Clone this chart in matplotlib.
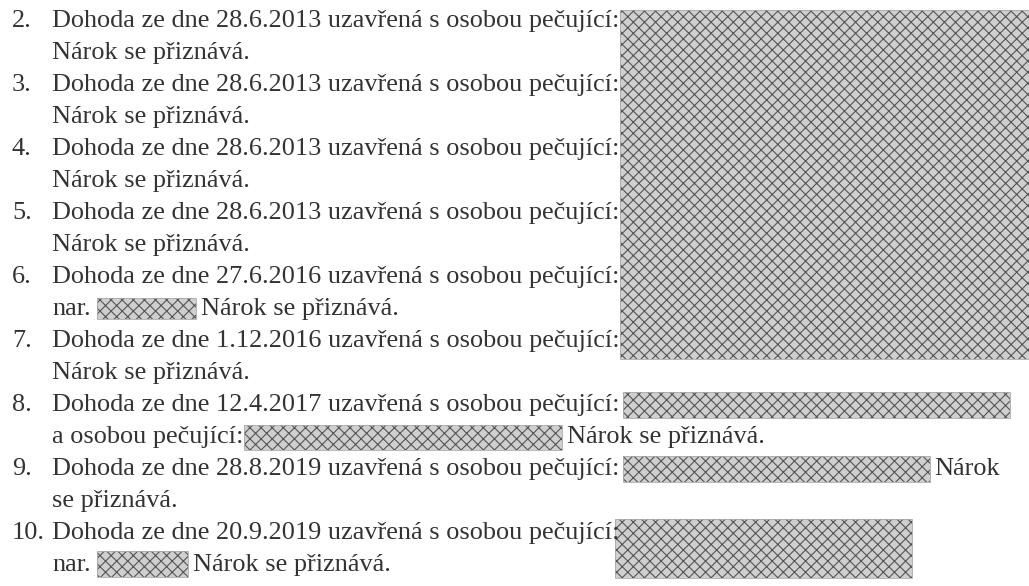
import matplotlib.pyplot as plt
from matplotlib.patches import Rectangle

# obsah dokumentu
cisla = ['2.', '3.', '4.', '5.', '6.', '7.', '8.', '9.', '10.']
data = ['28.6.2013', '28.6.2013', '28.6.2013', '28.6.2013', '27.6.2016',
        '1.12.2016', '12.4.2017', '28.8.2019', '20.9.2019']
druhe_radky = ['Nárok se přiznává.', 'Nárok se přiznává.', 'Nárok se přiznává.',
               'Nárok se přiznává.', 'nar.', 'Nárok se přiznává.',
               'a osobou pečující:', 'se přiznává.', 'nar.']
za_zacernenim = ['', '', '', '', 'Nárok se přiznává.', '', 'Nárok se přiznává.',
                 '', 'Nárok se přiznává.']

W, H = 1029, 586
fig = plt.figure(figsize=(W / 100, H / 100), dpi=100)
ax = fig.add_axes([0, 0, 1, 1])
ax.set_xlim(0, W)
ax.set_ylim(H, 0)
ax.axis('off')

barva = '#333333'
pismo = 'Liberation Serif'
plt.rcParams['hatch.linewidth'] = 0.8

# velikost pisma podle sirky prvniho radku
r = fig.canvas.get_renderer()
t = ax.text(52, 0, 'Dohoda ze dne 28.6.2013 uzavřená s osobou pečující:',
            family=pismo, fontsize=17)
w = t.get_window_extent(r).width
t.remove()
fs = 17 * 565 / w

x_text = 52
radek = 32.0
y0 = 21


def y(k):
    return y0 + radek * k


def zacerneni(x0, ya, x1, yb):
    ax.add_patch(Rectangle((x0, ya), x1 - x0, yb - ya, facecolor='#cfcfcf',
                           edgecolor='#555555', hatch='xxx', lw=0))
    ax.add_patch(Rectangle((x0, ya), x1 - x0, yb - ya, facecolor='none',
                           edgecolor='#aaaaaa', lw=0.6))


for i, c in enumerate(cisla):
    ax.text(12, y(2 * i), c, family=pismo, fontsize=fs, color=barva, va='center')
    ax.text(x_text, y(2 * i),
            'Dohoda ze dne {} uzavřená s osobou pečující:'.format(data[i]),
            family=pismo, fontsize=fs, color=barva, va='center')
    ax.text(x_text, y(2 * i + 1), druhe_radky[i], family=pismo, fontsize=fs,
            color=barva, va='center')

# zacernena mista
zacerneni(620, 10, 1029, y(10) + 18)
zacerneni(97, y(9) - 11, 196, y(9) + 10)
zacerneni(623, y(12) - 13, 1010, y(12) + 13)
zacerneni(244, y(13) - 12, 562, y(13) + 13)
zacerneni(623, y(14) - 13, 930, y(14) + 13)
zacerneni(615, y(16) - 14, 912, y(16) + 45)
zacerneni(97, y(17) - 14, 188, y(17) + 12)

ax.text(201, y(9), za_zacernenim[4], family=pismo, fontsize=fs,
        color=barva, va='center')
ax.text(567, y(13), za_zacernenim[6], family=pismo, fontsize=fs,
        color=barva, va='center')
ax.text(934, y(14), 'Nárok', family=pismo, fontsize=fs,
        color=barva, va='center')
ax.text(193, y(17), za_zacernenim[8], family=pismo, fontsize=fs,
        color=barva, va='center')

fig.savefig('out.png', dpi=100, facecolor='white')
